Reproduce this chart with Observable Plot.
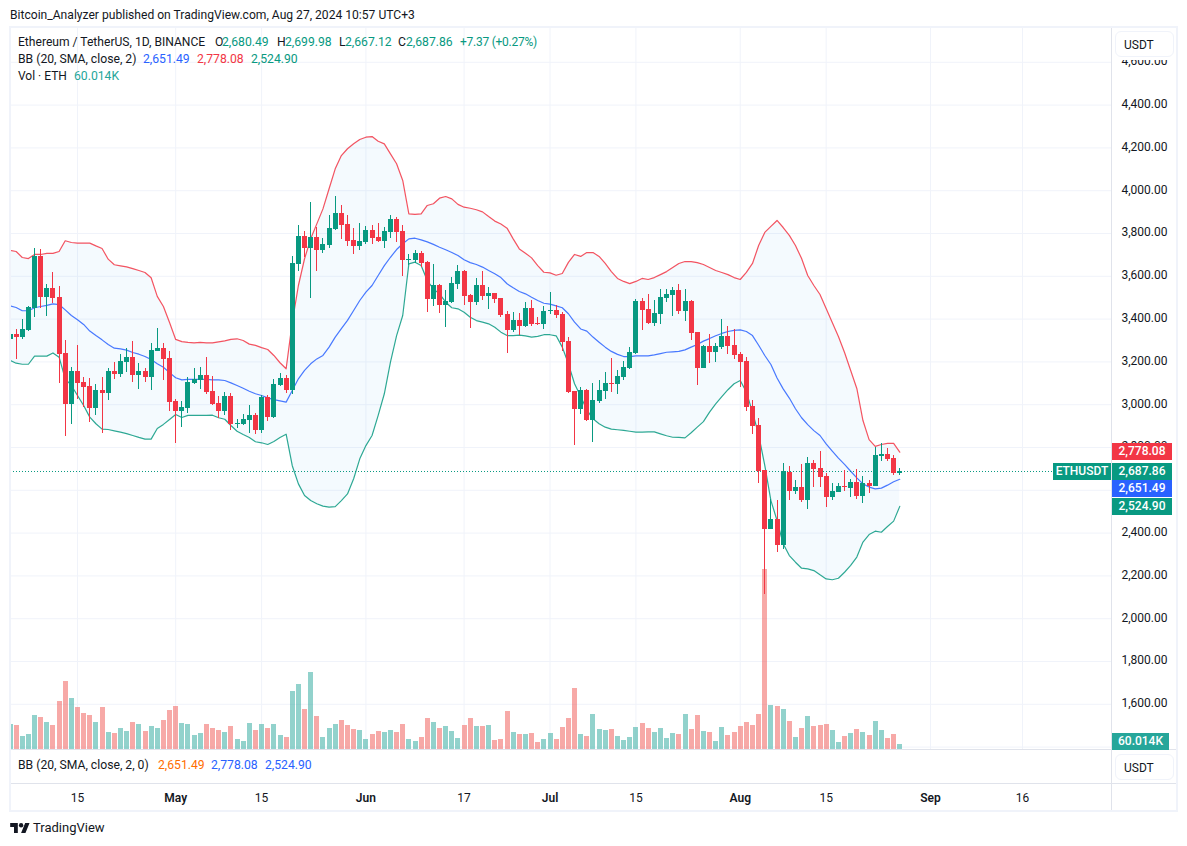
<!DOCTYPE html>
<html>
<head>
<meta charset="utf-8">
<script src="https://cdn.jsdelivr.net/npm/d3@7"></script>
<script src="https://cdn.jsdelivr.net/npm/@observablehq/plot@0.6"></script>
<style>
html,body{margin:0;padding:0;background:#fff;}
#page{position:relative;width:1187px;height:846px;overflow:hidden;background:#fff;font-family:Roboto,sans-serif;color:#131722;}
#page svg{position:absolute;left:0;top:0;max-width:none;}
.t{position:absolute;white-space:nowrap;font-size:12.2px;line-height:16px;}
.box{position:absolute;box-sizing:border-box;}
.tag{position:absolute;color:#fff;font-size:12px;font-weight:500;line-height:17px;height:17px;text-align:center;}
</style>
</head>
<body>
<div id="page"></div>
<script>
const firstDay = "2024-04-04";
const opens = [
3306,3328,3314,3347,3451,3693,3501,3543,3501,3239,
3003,3155,3104,3085,2982,3066,3052,3155,3141,3197,
3221,3136,3155,3127,3249,3263,3216,3015,2968,2982,
3099,3113,3136,3062,3006,2968,3038,2908,2908,2926,
2950,2879,3034,2940,3090,3122,3066,3655,3786,3730,
3781,3721,3744,3819,3893,3842,3767,3739,3758,3814,
3781,3763,3805,3865,3809,3674,3674,3707,3664,3492,
3557,3464,3478,3562,3622,3510,3478,3557,3506,3520,
3496,3421,3347,3393,3365,3450,3380,3375,3436,3440,
3421,3295,3062,2978,3066,2926,3015,3062,3099,3094,
3127,3169,3239,3482,3445,3379,3421,3496,3510,3534,
3436,3482,3337,3169,3272,3244,3267,3319,3277,3235,
3202,2992,2903,2693,2417,2464,2342,2685,2594,2613,
2552,2725,2702,2664,2566,2590,2618,2608,2636,2571,
2632,2618,2760,2767,2749,2680.49];
const closes = [
3326,3314,3351,3454,3694,3501,3543,3496,3236,3003,
3155,3101,3080,2982,3066,3052,3155,3141,3202,3221,
3136,3155,3127,3253,3263,3211,3010,2968,2987,3104,
3118,3136,3057,3001,2968,3038,2908,2911,2931,2950,
2879,3034,2940,3094,3122,3066,3660,3786,3730,3781,
3721,3749,3823,3893,3837,3763,3739,3763,3814,3777,
3763,3809,3865,3805,3674,3678,3707,3660,3492,3557,
3464,3482,3566,3622,3506,3478,3557,3506,3520,3492,
3417,3347,3393,3365,3450,3375,3375,3436,3440,3417,
3291,3057,2978,3066,2926,3020,3066,3099,3096,3132,
3174,3244,3482,3440,3379,3426,3501,3515,3534,3436,
3482,3333,3169,3272,3244,3272,3319,3272,3230,3197,
2987,2898,2688,2417,2464,2342,2686,2594,2613,2552,
2725,2697,2660,2566,2594,2618,2613,2636,2571,2632,
2618,2763,2767,2744,2679,2687.86];
const highs = [
3331,3350,3398,3459,3730,3724,3562,3618,3552,3300,
3174,3277,3127,3122,3094,3127,3169,3197,3235,3263,
3295,3193,3169,3286,3356,3286,3249,3024,3015,3127,
3169,3174,3221,3132,3038,3057,3052,2931,2954,2996,
2959,3043,3043,3118,3146,3136,3693,3837,3809,3945,
3828,3777,3884,3973,3931,3884,3823,3847,3833,3837,
3847,3828,3884,3875,3837,3702,3721,3716,3669,3655,
3562,3534,3594,3650,3627,3515,3590,3622,3548,3520,
3496,3436,3431,3426,3478,3487,3408,3459,3524,3464,
3431,3314,3062,3080,3071,3099,3113,3150,3216,3160,
3202,3267,3492,3496,3515,3487,3538,3538,3548,3562,
3538,3487,3337,3277,3328,3286,3398,3365,3351,3244,
3221,3020,2936,2693,2557,2552,2725,2711,2646,2721,
2753,2739,2781,2679,2632,2632,2693,2650,2697,2664,
2646,2800,2819,2795,2763,2699.98];
const lows = [
3300,3211,3306,3342,3408,3450,3412,3473,3099,2852,
2908,3024,2987,2917,2950,2866,3020,3118,3127,3150,
3104,3071,3104,3066,3249,3113,2968,2819,2893,2959,
3094,3071,3048,2996,2936,2950,2879,2889,2903,2866,
2861,2866,2922,2936,3085,3052,3048,3622,3688,3496,
3622,3707,3730,3814,3772,3739,3702,3721,3749,3749,
3758,3730,3777,3758,3599,3650,3660,3641,3431,3459,
3426,3361,3473,3538,3464,3356,3464,3487,3445,3473,
3407,3239,3337,3323,3361,3365,3370,3351,3421,3403,
3249,3052,2809,2954,2922,2823,3006,3024,3057,3048,
3113,3165,3235,3347,3375,3365,3375,3478,3412,3422,
3389,3300,3090,3169,3193,3197,3258,3235,3211,3080,
2968,2861,2632,2113,2417,2309,2323,2552,2580,2543,
2510,2613,2613,2520,2552,2590,2594,2566,2557,2538,
2585,2618,2735,2735,2669,2667.12];
const volumesK = [
300,288,156,180,408,384,324,288,576,816,
612,504,432,408,324,504,204,192,252,216,
324,300,216,276,252,348,468,516,312,300,
168,192,300,252,228,204,276,120,96,312,
228,300,252,300,168,144,696,780,480,924,
396,144,252,300,348,288,240,228,120,180,
216,204,228,204,300,120,96,144,372,324,
252,276,216,132,288,372,276,276,288,108,
120,456,204,180,180,192,84,120,192,120,
264,372,732,180,156,420,240,228,240,156,
108,144,264,312,252,204,252,132,192,180,
420,240,408,216,204,96,264,168,204,276,
324,288,420,2160,528,516,480,336,144,252,
396,276,288,300,228,84,156,192,240,204,
168,336,228,132,180,60.014];
const bbUpper = [
3721,3716,3688,3683,3702,3702,3707,3707,3716,3766,
3758,3755,3755,3755,3742,3730,3680,3654,3649,3644,
3636,3627,3618,3593,3506,3459,3384,3305,3295,3291,
3289,3291,3289,3289,3294,3298,3305,3308,3300,3283,
3277,3267,3258,3230,3196,3168,3386,3557,3682,3775,
3845,3915,4009,4102,4164,4196,4219,4239,4250,4253,
4231,4219,4172,4126,4048,3892,3889,3892,3931,3939,
3965,3973,3962,3936,3923,3918,3911,3901,3879,3858,
3844,3825,3775,3728,3708,3686,3650,3619,3616,3605,
3613,3665,3702,3693,3711,3711,3693,3660,3622,3590,
3576,3566,3576,3590,3585,3594,3608,3622,3641,3660,
3669,3669,3664,3655,3641,3627,3618,3608,3594,3585,
3618,3660,3744,3805,3833,3861,3828,3791,3744,3683,
3604,3557,3515,3450,3384,3319,3244,3160,3076,2926,
2837,2805,2814,2819,2819,2778.08];
const bbBasis = [
3462,3454,3439,3439,3453,3459,3464,3471,3468,3443,
3417,3397,3375,3344,3323,3303,3281,3264,3261,3255,
3244,3236,3225,3211,3191,3175,3150,3126,3116,3118,
3118,3118,3118,3116,3116,3113,3102,3090,3077,3063,
3051,3043,3032,3024,3018,3012,3066,3121,3160,3191,
3214,3230,3269,3316,3355,3394,3440,3487,3526,3557,
3604,3650,3689,3725,3752,3775,3778,3770,3761,3749,
3736,3724,3711,3697,3677,3664,3655,3643,3627,3612,
3594,3565,3546,3529,3518,3502,3487,3474,3470,3462,
3453,3425,3386,3354,3344,3316,3292,3269,3249,3235,
3225,3225,3228,3228,3228,3233,3239,3245,3247,3249,
3256,3269,3281,3297,3309,3322,3333,3342,3347,3350,
3342,3323,3278,3230,3188,3125,3074,3031,2981,2939,
2907,2879,2856,2817,2783,2750,2721,2689,2658,2630,
2615,2607,2610,2624,2640,2651.49];
const bbLower = [
3207,3194,3189,3189,3227,3227,3227,3242,3222,3121,
3090,3043,2996,2942,2911,2886,2884,2878,2872,2865,
2856,2847,2839,2839,2889,2908,2931,2954,2940,2950,
2950,2950,2950,2951,2939,2932,2903,2876,2861,2847,
2827,2822,2814,2828,2847,2862,2715,2630,2576,2552,
2537,2526,2521,2524,2552,2583,2654,2747,2809,2856,
2950,3051,3199,3323,3417,3658,3666,3650,3580,3541,
3518,3479,3453,3448,3432,3409,3393,3386,3378,3362,
3339,3323,3323,3325,3322,3316,3319,3327,3327,3322,
3269,3191,3098,3038,2976,2934,2911,2895,2886,2883,
2880,2876,2872,2872,2873,2873,2864,2855,2848,2847,
2845,2869,2895,2921,2965,3004,3038,3070,3098,3113,
3059,2965,2860,2716,2552,2459,2350,2295,2264,2236,
2233,2225,2205,2186,2182,2189,2217,2249,2288,2358,
2393,2409,2404,2431,2456,2524.90];

const priceGrid = [1400,1600,1800,2000,2200,2400,2600,2800,3000,3200,3400,3600,3800,4000,4200,4400,4600];
const priceLabels = [1600,1800,2000,2200,2400,2800,3000,3200,3400,3600,3800,4000,4200,4400,4600];
const dayTicks = ["2024-04-15","2024-05-15","2024-06-17","2024-07-15","2024-08-15","2024-09-16"];
const dayTickLabels = ["15","15","17","15","15","16"];
const monthTicks = ["2024-05-01","2024-06-01","2024-07-01","2024-08-01","2024-09-01"];
const monthTickLabels = ["May","Jun","Jul","Aug","Sep"];
const xDomainDays = ["2024-04-04","2024-09-16"];

const lastClose = 2687.86;
const UP = "#089981", DOWN = "#f23645", BLUE = "#2962ff", VOL_UP = "#26a69a", VOL_DOWN = "#ef5350";

const parse = d3.utcParse("%Y-%m-%d");
const rows = opens.map((o, i) => ({
  date: d3.utcDay.offset(parse(firstDay), i),
  open: o, close: closes[i], high: highs[i], low: lows[i],
  volume: volumesK[i], upper: bbUpper[i], basis: bbBasis[i], lower: bbLower[i]
}));
for (const a of [closes, highs, lows, volumesK, bbUpper, bbBasis, bbLower]) {
  if (a.length !== opens.length) throw new Error("length mismatch " + a.length);
}
const isUp = d => d.close >= d.open;
const isDown = d => d.close < d.open;

const frame = {width:1187, height:846, marginLeft:10, marginRight:76, marginTop:27, marginBottom:97};
const xScale = {type:"utc", domain:xDomainDays.map(parse), range:[9.5,1022], axis:null};
const priceScale = {domain:[1400,4600], range:[746.6,61.8], axis:null};
const plotStyle = {background:"transparent", fontFamily:"Roboto,sans-serif", overflow:"visible"};
const dayLookup = new Map(dayTicks.map((d,i)=>[+parse(d),dayTickLabels[i]]));
const monthLookup = new Map(monthTicks.map((d,i)=>[+parse(d),monthTickLabels[i]]));

const gridPlot = Plot.plot({
  ...frame, style:plotStyle, x:xScale, y:priceScale,
  marks:[
    Plot.gridY(priceGrid,{stroke:"#f0f3fa",strokeOpacity:1}),
    Plot.gridX([...dayTicks,...monthTicks].map(parse),{stroke:"#f0f3fa",strokeOpacity:1}),
    Plot.axisY(priceLabels,{anchor:"right",tickSize:0,tickPadding:10,label:null,fontSize:12,fill:"#131722",dy:-1,
      tickFormat:d3.format(",.2f")}),
    Plot.axisX(dayTicks.map(parse),{anchor:"bottom",tickSize:0,tickPadding:44,label:null,fontSize:12,fill:"#131722",
      tickFormat:d=>dayLookup.get(+d)}),
    Plot.axisX(monthTicks.map(parse),{anchor:"bottom",tickSize:0,tickPadding:44,label:null,fontSize:12,fontWeight:600,fill:"#131722",
      tickFormat:d=>monthLookup.get(+d)})
  ]
});

const volPlot = Plot.plot({
  ...frame, style:plotStyle, x:xScale, y:{domain:[0,2160],range:[749,569],axis:null},
  marks:[
    Plot.ruleX(rows,{filter:isUp,x:"date",y1:0,y2:"volume",stroke:VOL_UP,strokeOpacity:.5,strokeWidth:5,clip:true,shapeRendering:"crispEdges"}),
    Plot.ruleX(rows,{filter:isDown,x:"date",y1:0,y2:"volume",stroke:VOL_DOWN,strokeOpacity:.5,strokeWidth:5,clip:true,shapeRendering:"crispEdges"})
  ]
});

const pricePlot = Plot.plot({
  ...frame, style:plotStyle, x:xScale, y:priceScale,
  marks:[
    Plot.areaY(rows,{x:"date",y1:"lower",y2:"upper",fill:"#2196f3",fillOpacity:.05,clip:true}),
    Plot.lineY(rows,{x:"date",y:"upper",stroke:DOWN,strokeWidth:1.2,strokeOpacity:.85,clip:true}),
    Plot.lineY(rows,{x:"date",y:"lower",stroke:UP,strokeWidth:1.2,strokeOpacity:.85,clip:true}),
    Plot.lineY(rows,{x:"date",y:"basis",stroke:BLUE,strokeWidth:1.2,strokeOpacity:.85,clip:true}),
    Plot.ruleY([lastClose],{stroke:UP,strokeDasharray:"1 2",strokeWidth:1}),
    Plot.ruleX(rows,{filter:isUp,x:"date",y1:"low",y2:"high",stroke:UP,strokeWidth:1,clip:true,shapeRendering:"crispEdges"}),
    Plot.ruleX(rows,{filter:isDown,x:"date",y1:"low",y2:"high",stroke:DOWN,strokeWidth:1,clip:true,shapeRendering:"crispEdges"}),
    Plot.ruleX(rows,{filter:isUp,x:"date",y1:"open",y2:"close",stroke:UP,strokeWidth:5,clip:true,shapeRendering:"crispEdges"}),
    Plot.ruleX(rows,{filter:isDown,x:"date",y1:"open",y2:"close",stroke:DOWN,strokeWidth:5,clip:true,shapeRendering:"crispEdges"})
  ]
});

const page = document.getElementById("page");
page.append(gridPlot, volPlot, pricePlot);

function box(l,t,w,h,css){const e=document.createElement("div");e.className="box";
  e.style.cssText=`left:${l}px;top:${t}px;width:${w}px;height:${h}px;${css||""}`;page.append(e);return e;}
function text(s,l,t,color,css){const e=document.createElement("div");e.className="t";e.textContent=s;
  e.style.cssText=`left:${l}px;top:${t}px;color:${color||"#131722"};${css||""}`;page.append(e);return e;}
function tag(s,l,t,w,bg){const e=document.createElement("div");e.className="tag";e.textContent=s;
  e.style.cssText=`left:${l}px;top:${t}px;width:${w}px;background:${bg};`;page.append(e);return e;}

// frame
const EDGE="#f0f3fa", SEP="#e0e3eb";
box(1112,28,64,32,"background:#fff");
box(9,26,1169,2,`background:${EDGE}`);
box(9,810,1169,2,`background:${EDGE}`);
box(9,26,2,786,`background:${EDGE}`);
box(1176,26,2,786,`background:${EDGE}`);
box(1111,28,1,782,`background:${SEP}`);
box(11,749,1165,1,`background:${SEP}`);
box(11,783,1165,1,`background:${SEP}`);
box(1115,31,59,26,`background:#fff;border:1.5px solid ${EDGE};border-radius:6px`);
box(1115,754,59,26,`background:#fff;border:1.5px solid ${EDGE};border-radius:6px`);
text("USDT",1124,37,"#131722","font-size:12px");
text("USDT",1124,760,"#131722","font-size:12px");

// header
text("Bitcoin_Analyzer published on TradingView.com, Aug 27, 2024 10:57 UTC+3",10,7,"#131722","font-size:12.1px");
text("Ethereum / TetherUS, 1D, BINANCE",18,34,"#131722","font-size:12.1px");
text("O",215,34); text("2,680.49",222,34,UP);
text("H",277,34); text("2,699.98",285,34,UP);
text("L",339,34); text("2,667.12",345,34,UP);
text("C",398,34); text("2,687.86",406,34,UP);
text("+7.37 (+0.27%)",460,34,UP,"font-size:12px;letter-spacing:-0.25px");
text("BB (20, SMA, close, 2)",18,51);
text("2,651.49",143,51,BLUE); text("2,778.08",197,51,DOWN); text("2,524.90",251,51,UP);
text("Vol · ETH",18,68,"#131722","font-size:12px");
text("60.014K",74,68,VOL_UP);
text("BB (20, SMA, close, 2, 0)",18,757);
text("2,651.49",158,757,"#ff6d00"); text("2,778.08",211,757,BLUE); text("2,524.90",265,757,BLUE);

// price tags
tag("ETHUSDT",1053,463,58,UP);
tag("2,778.08",1112,443,60,DOWN);
tag("2,687.86",1112,463,60,UP);
tag("2,651.49",1112,480,60,BLUE);
tag("2,524.90",1112,498,60,UP);
tag("60.014K",1112,733,57,VOL_UP);

// footer logo
const logo=document.createElementNS("http://www.w3.org/2000/svg","svg");
logo.setAttribute("width","20");logo.setAttribute("height","12");logo.setAttribute("viewBox","0 2 36 22");
logo.style.cssText="left:10px;top:822px;";
logo.innerHTML='<path fill="#131722" d="M14 22H7V11H0V4h14v18zM28 22h-8l7.5-18h8L28 22z"/><circle fill="#131722" cx="20" cy="8" r="4"/>';
page.append(logo);
text("TradingView",33,820,"#131722","font-size:13px;line-height:16px;");
</script>
</body>
</html>
